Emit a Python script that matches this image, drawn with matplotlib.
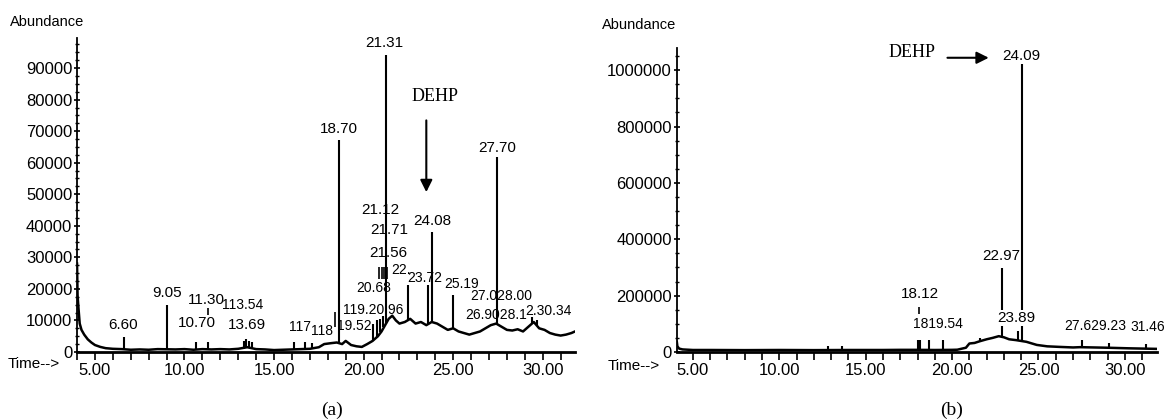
import numpy as np
import matplotlib
matplotlib.use('Agg')
import matplotlib.pyplot as plt
from matplotlib import font_manager
from matplotlib.ticker import MultipleLocator, FormatStrFormatter

names = {f.name for f in font_manager.fontManager.ttflist}
if 'Liberation Sans Narrow' in names:
    SANS, FS, FL = 'Liberation Sans Narrow', 14, 13
else:
    SANS, FS, FL = 'Liberation Sans', 12, 11
SERIF = 'Liberation Serif'

# ---- chromatogram (a) ----
base_t_a = [4.00, 4.03, 4.08, 4.15, 4.25, 4.4, 4.6, 4.8, 5.0, 5.3, 5.6, 6.0, 6.5, 7.0, 7.5,
            8.0, 8.5, 9.5, 10.0, 10.5, 11.0, 11.5, 12.0, 12.5, 13.0, 13.5, 14.0, 14.5,
            15.0, 15.5, 16.0, 16.5, 17.0, 17.5, 17.8, 18.2, 18.5, 18.8, 19.0, 19.3, 19.6,
            19.9, 20.2, 20.5, 20.8, 21.0, 21.2, 21.4, 21.6, 21.8, 22.0, 22.3, 22.6, 22.9,
            23.2, 23.5, 23.8, 24.1, 24.4, 24.7, 25.0, 25.3, 25.6, 25.9, 26.2, 26.5, 26.8,
            27.1, 27.4, 27.7, 28.0, 28.3, 28.6, 28.9, 29.2, 29.5, 29.8, 30.1, 30.4, 30.7,
            31.0, 31.3, 31.6, 31.8]
base_a_a = [28000, 18000, 14000, 9000, 7000, 5500, 4000, 3000, 2200, 1600, 1200, 1000, 900,
            700, 800, 700, 900, 800, 900, 700, 900, 800, 900, 800, 1000, 1500, 900, 800,
            600, 700, 800, 900, 1000, 1500, 2500, 2800, 3000, 2500, 3500, 2200, 1800, 1600,
            2500, 3500, 5000, 6500, 8500, 10500, 11500, 10000, 9000, 9500, 10500, 9000, 9500,
            8500, 9500, 9000, 8000, 7000, 7500, 6500, 6000, 5500, 6000, 6500, 7500, 8500,
            9000, 8000, 7000, 6800, 7200, 6500, 8000, 9500, 7500, 7000, 6000, 5500, 5200,
            5500, 6000, 6500]
peak_t_a = [6.6, 9.0, 10.67, 11.3, 13.3, 13.45, 13.6, 13.75, 16.1, 16.7, 17.1, 18.6, 20.55,
            20.72, 20.94, 21.1, 21.25, 22.45, 23.57, 23.8, 25.0, 27.44, 29.4, 29.7]
peak_top_a = [4700, 15000, 3200, 3000, 3500, 4000, 3600, 3000, 3000, 3200, 2800, 67300, 9000,
              10000, 10500, 11500, 94300, 21300, 21300, 38100, 18100, 61900, 11000, 10000]
peak_base_a = [900, 800, 800, 900, 1000, 1200, 1400, 1200, 800, 900, 1000, 2900, 3500, 4500,
               6200, 8000, 9000, 9700, 8700, 9300, 7500, 8800, 9000, 8500]
labels_a = ["6.60", "9.05", "10.70", "11.30", "13.69", "21.56", "21.71", "21.12", "21.31",
            "18.70", "24.08", "27.70"]
label_t_a = [6.56, 9.0, 10.67, 11.2, 13.5, 21.39, 21.44, 20.94, 21.17, 18.6, 23.83, 27.44]
label_y_a = [8600, 18700, 9200, 16500, 8600, 31400, 38700, 45100, 97800, 70800, 41600, 64800]
# crowded labels, drawn from their left edge
labels_left_a = ["113.54", "117", "118", "19.52", "119.20.96", "20.68", "22.", "23.72",
                 "25.19", "27.028.00", "26.9028.1", "2.30.34"]
left_t_a = [12.11, 15.83, 17.06, 18.5, 18.83, 19.61, 21.56, 22.45, 24.5, 25.94, 25.7, 29.0]
left_y_a = [14900, 7900, 6700, 8300, 13300, 20300, 26000, 23500, 21600, 17800, 11700, 13000]
lead_t_a = [11.3, 18.39, 20.85, 21.0, 21.15, 21.3]
lead_lo_a = [11700, 7900, 23000, 23000, 23000, 23000]
lead_hi_a = [14000, 12700, 27000, 27000, 27000, 27000]

# ---- chromatogram (b) ----
base_t_b = [4.07, 4.1, 4.2, 4.4, 5.0, 6.0, 8.0, 10.0, 12.0, 14.0, 16.0, 17.0, 18.0, 19.0,
            20.0, 20.3, 20.8, 21.0, 21.3, 21.6, 22.0, 22.35, 22.7, 23.0, 23.3, 23.7, 24.3,
            24.9, 25.5, 26.2, 27.0, 27.4, 28.2, 29.0, 30.2, 31.0, 31.8]
base_a_b = [35000, 20000, 12000, 9000, 7000, 7000, 6500, 7000, 6500, 7000, 7000, 7500, 7500,
            7000, 7500, 8000, 15000, 30000, 32000, 38000, 45000, 50000, 56000, 52000, 45000,
            42000, 36000, 25000, 20000, 18000, 16000, 17000, 16000, 15000, 13000, 12000, 11000]
peak_t_b = [12.8, 13.6, 18.0, 18.12, 18.64, 19.45, 21.6, 22.9, 23.8, 24.02, 27.5, 29.1, 31.25]
peak_top_b = [20000, 22000, 44000, 44000, 44000, 44000, 50000, 298000, 73000, 1075000, 44000,
              33000, 29000]
peak_base_b = [7000, 7000, 7500, 7500, 7500, 7500, 38000, 52000, 40000, 38000, 17000, 15000,
               12000]
labels_b = ["22.97", "18.12"]
label_t_b = [22.86, 18.12]
label_y_b = [342000, 207000]
labels_box_b = ["24.09", "23.89"]
box_t_b = [24.02, 23.73]
box_y_b = [1051000, 120000]
labels_left_b = ["1819.54", "27.629.23", "31.46"]
left_t_b = [17.72, 26.5, 30.3]
left_y_b = [98000, 91000, 87000]
lead_t_b = [18.1]
lead_lo_b = [134500]
lead_hi_b = [160000]


def style_axes(ax, xlim, ylim, ymajor, yminor):
    ax.set_xlim(*xlim)
    ax.set_ylim(*ylim)
    for s in ['top', 'right']:
        ax.spines[s].set_visible(False)
    ax.spines['left'].set_linewidth(1.3)
    ax.spines['bottom'].set_linewidth(2.0)
    ax.xaxis.set_major_locator(MultipleLocator(5))
    ax.xaxis.set_minor_locator(MultipleLocator(1))
    ax.xaxis.set_major_formatter(FormatStrFormatter('%.2f'))
    ax.yaxis.set_major_locator(MultipleLocator(ymajor))
    ax.yaxis.set_minor_locator(MultipleLocator(yminor))
    ax.yaxis.set_major_formatter(FormatStrFormatter('%d'))
    ax.tick_params(axis='x', which='both', direction='out', length=6, width=1.2, pad=2)
    ax.tick_params(axis='y', which='major', direction='inout', length=5, width=1.2, pad=1)
    ax.tick_params(axis='y', which='minor', direction='inout', length=3, width=1.0)
    for lab in ax.get_xticklabels() + ax.get_yticklabels():
        lab.set_fontfamily(SANS)
        lab.set_fontsize(FS)


fig = plt.figure(figsize=(11.67, 4.19), dpi=100)
ax1 = fig.add_axes([0.066, 0.160, 0.4267, 0.749])
ax2 = fig.add_axes([0.580, 0.160, 0.4113, 0.725])

# panel (a)
ax1.plot(base_t_a, base_a_a, color='black', lw=1.8)
ax1.vlines(peak_t_a, peak_base_a, peak_top_a, color='black', lw=1.5)
ax1.vlines(lead_t_a, lead_lo_a, lead_hi_a, color='black', lw=1.2)
for s, t, y in zip(labels_a, label_t_a, label_y_a):
    ax1.text(t, y, s, ha='center', va='center', family=SANS, fontsize=FL, clip_on=False)
for s, t, y in zip(labels_left_a, left_t_a, left_y_a):
    ax1.text(t, y, s, ha='left', va='center', family=SANS, fontsize=FL - 1)
style_axes(ax1, (4.0, 31.8), (0, 99500), 10000, 2500)
ax1.text(24.0, 81000, 'DEHP', ha='center', va='center', family=SERIF, fontsize=13)
ax1.annotate('', xy=(23.5, 49800), xytext=(23.5, 74300),
             arrowprops=dict(arrowstyle='-|>', color='black', lw=1.5, mutation_scale=18))

# panel (b)
ax2.plot(base_t_b, base_a_b, color='black', lw=1.8)
ax2.vlines(peak_t_b, peak_base_b, peak_top_b, color='black', lw=1.5)
ax2.vlines(lead_t_b, lead_lo_b, lead_hi_b, color='black', lw=1.2)
for s, t, y in zip(labels_b, label_t_b, label_y_b):
    ax2.text(t, y, s, ha='center', va='center', family=SANS, fontsize=FL)
for s, t, y in zip(labels_box_b, box_t_b, box_y_b):
    ax2.text(t, y, s, ha='center', va='center', family=SANS, fontsize=FL, zorder=5,
             bbox=dict(facecolor='white', edgecolor='none', pad=0.5))
for s, t, y in zip(labels_left_b, left_t_b, left_y_b):
    ax2.text(t, y, s, ha='left', va='center', family=SANS, fontsize=FL - 1, clip_on=False)
style_axes(ax2, (4.07, 31.85), (0, 1078000), 200000, 50000)
ax2.text(17.66, 1062000, 'DEHP', ha='center', va='center', family=SERIF, fontsize=13)
ax2.annotate('', xy=(22.28, 1044000), xytext=(19.57, 1044000),
             arrowprops=dict(arrowstyle='-|>', color='black', lw=1.5, mutation_scale=18))

# axis captions
for x, y in [(10 / 1167, 1 - 22 / 419), (602 / 1167, 1 - 25 / 419)]:
    fig.text(x, y, 'Abundance', ha='left', va='center', family=SANS, fontsize=FS - 1.5)
for x, y in [(60 / 1167, 1 - 364 / 419), (660 / 1167, 1 - 366 / 419)]:
    fig.text(x, y, 'Time-->', ha='right', va='center', family=SANS, fontsize=FS - 1)
fig.text(332 / 1167, 1 - 410 / 419, '(a)', ha='center', va='center', family=SERIF, fontsize=14)
fig.text(952 / 1167, 1 - 410 / 419, '(b)', ha='center', va='center', family=SERIF, fontsize=14)

fig.savefig('out.png', dpi=100)
